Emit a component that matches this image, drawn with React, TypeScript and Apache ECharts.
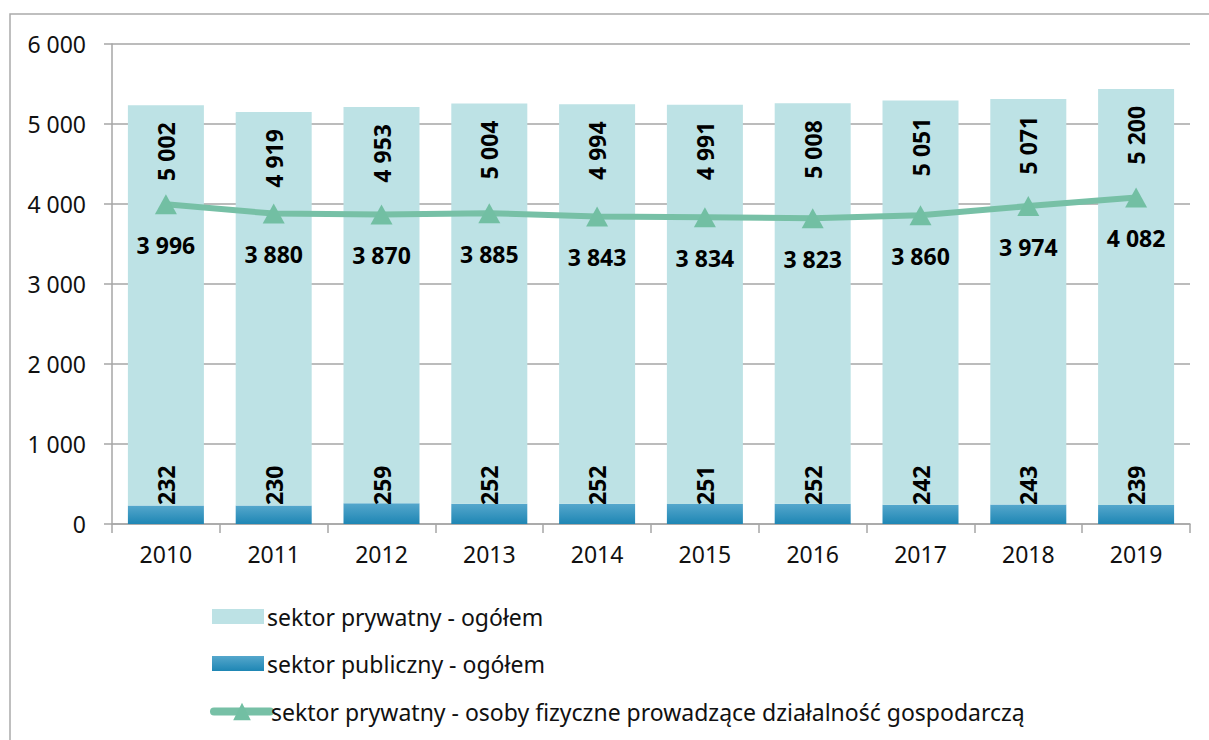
import React, { useEffect, useRef } from "react";
import * as echarts from "echarts";

const years = ["2010", "2011", "2012", "2013", "2014", "2015", "2016", "2017", "2018", "2019"];
const privateTotal = [5002, 4919, 4953, 5004, 4994, 4991, 5008, 5051, 5071, 5200];
const publicTotal = [232, 230, 259, 252, 252, 251, 252, 242, 243, 239];
const privatePersons = [3996, 3880, 3870, 3885, 3843, 3834, 3823, 3860, 3974, 4082];

const NAME_PRIV = "sektor prywatny - ogółem";
const NAME_PUB = "sektor publiczny - ogółem";
const NAME_PERS = "sektor prywatny - osoby fizyczne prowadzące działalność gospodarczą";

const fmt = (n: number) => String(n).replace(/\B(?=(\d{3})+(?!\d))/g, " ");
const FONT = "Noto Sans";

export default function App() {
  const ref = useRef<HTMLDivElement>(null);
  useEffect(() => {
    if (!ref.current) return;
    const chart = echarts.init(ref.current, null, { renderer: "svg" });
    const legendText = { fontFamily: FONT, fontSize: 23, color: "#111", lineHeight: 25 };
    chart.setOption({
      animation: false,
      textStyle: { fontFamily: FONT },
      graphic: [
        {
          type: "rect",
          shape: { x: 10, y: 14, width: 1250, height: 800 },
          style: { fill: "none", stroke: "#ABABAB", lineWidth: 1.5 },
          silent: true,
        },
      ],
      grid: { left: 112, right: 19, top: 44, bottom: 216, containLabel: false },
      legend: [
        {
          orient: "vertical",
          left: 207,
          top: 599,
          itemWidth: 52,
          itemHeight: 15,
          itemGap: 22,
          data: [
            { name: NAME_PRIV, icon: "rect" },
            { name: NAME_PUB, icon: "rect" },
          ],
          textStyle: { ...legendText, padding: [0, 0, 0, -2] },
        },
        {
          orient: "vertical",
          left: 205,
          top: 694,
          itemWidth: 56,
          itemHeight: 22,
          data: [{ name: NAME_PERS, lineStyle: { width: 8, cap: "round", color: "#77C0A6" } }],
          textStyle: { ...legendText, padding: [0, 0, 0, -4] },
        },
      ],
      xAxis: {
        type: "category",
        data: years,
        axisLine: { lineStyle: { color: "#A6A6A6", width: 1.5 } },
        axisTick: { show: true, length: 9, lineStyle: { color: "#A6A6A6", width: 1.5 } },
        axisLabel: { color: "#111", fontSize: 23, margin: 18, fontFamily: FONT },
      },
      yAxis: {
        type: "value",
        min: 0,
        max: 6000,
        interval: 1000,
        axisLine: { show: true, lineStyle: { color: "#A6A6A6", width: 1.5 } },
        axisTick: { show: true, length: 8, lineStyle: { color: "#A6A6A6", width: 1.5 } },
        splitLine: { lineStyle: { color: "#A6A6A6", width: 1.5 } },
        axisLabel: { color: "#111", fontSize: 23, margin: 26, fontFamily: FONT, formatter: (v: number) => fmt(v) },
      },
      series: [
        {
          name: NAME_PUB,
          type: "bar",
          stack: "total",
          barWidth: 76,
          data: publicTotal,
          itemStyle: {
            color: new echarts.graphic.LinearGradient(0, 0, 0, 1, [
              { offset: 0, color: "#55A7CC" },
              { offset: 1, color: "#1E86B4" },
            ]),
          },
          label: {
            show: true,
            position: "insideBottom",
            distance: 19,
            rotate: 90,
            align: "left",
            verticalAlign: "middle",
            fontSize: 23,
            fontWeight: "bold",
            color: "#000",
            fontFamily: FONT,
            formatter: (p: any) => fmt(p.value),
          },
          z: 2,
        },
        {
          name: NAME_PRIV,
          type: "bar",
          stack: "total",
          barWidth: 76,
          data: privateTotal,
          itemStyle: { color: "#BDE2E5" },
          label: {
            show: true,
            position: "insideTop",
            distance: 17,
            rotate: 90,
            align: "right",
            verticalAlign: "middle",
            fontSize: 23,
            fontWeight: "bold",
            color: "#000",
            fontFamily: FONT,
            formatter: (p: any) => fmt(p.value),
          },
          z: 2,
        },
        {
          name: NAME_PERS,
          type: "line",
          data: privatePersons,
          symbol: "triangle",
          symbolSize: [22, 20],
          lineStyle: { color: "#77C0A6", width: 6 },
          itemStyle: { color: "#72BFA3" },
          label: {
            show: true,
            position: "bottom",
            distance: 19,
            fontSize: 23,
            fontWeight: "bold",
            color: "#000",
            fontFamily: FONT,
            formatter: (p: any) => fmt(p.value),
          },
          z: 5,
        },
      ],
    });
    return () => chart.dispose();
  }, []);
  return (
    <div
      ref={ref}
      style={{ position: "fixed", left: 0, top: 0, width: 1209, height: 740, background: "#fff" }}
    />
  );
}
